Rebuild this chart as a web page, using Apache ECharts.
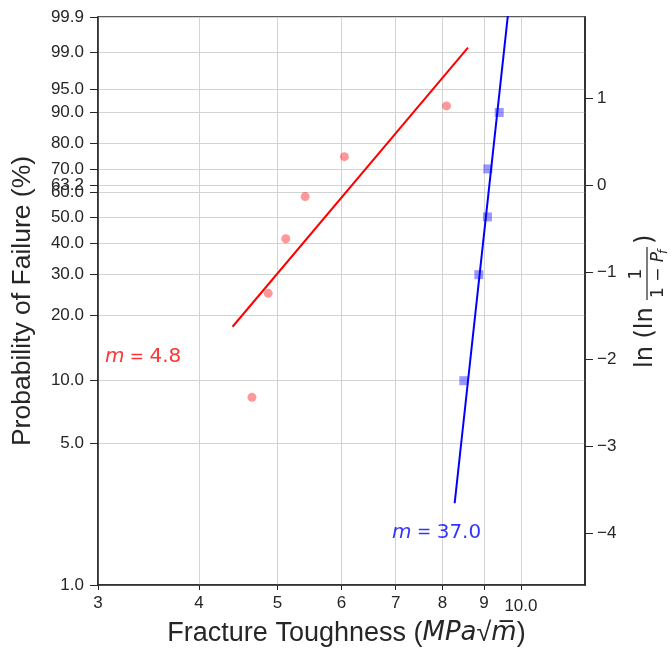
<!DOCTYPE html>
<html><head><meta charset="utf-8">
<script src="https://cdn.jsdelivr.net/npm/echarts@6/dist/echarts.min.js"></script>
<style>html,body{margin:0;padding:0;background:#fff}#c{width:671px;height:648px}</style>
</head><body><div id="c"></div>
<script>
// ---- data ----
const xTicks = [3, 4, 5, 6, 7, 8, 9, 10];
const pTicks = [1.0, 5.0, 10.0, 20.0, 30.0, 40.0, 50.0, 60.0, 63.2, 70.0, 80.0, 90.0, 95.0, 99.0, 99.9];
const rTicks = [-4, -3, -2, -1, 0, 1];
const redX = [4.65, 4.87, 5.12, 5.41, 6.05, 8.09];
const redP = [8.33, 25.0, 41.67, 58.33, 75.0, 91.67];
const blueX = [8.50, 8.87, 9.09, 9.10, 9.40];
const blueP = [10.0, 30.0, 50.0, 70.0, 90.0];
const redFitX = [4.40, 8.60];
const redFitY = [-1.63, 1.58];     // ln(ln(1/(1-Pf)))
const blueFitX = [8.28, 9.96];
const blueFitY = [-3.66, 3.18];
const redNote = {x: 3.06, y: -1.98, m: '4.8'};
const blueNote = {x: 6.93, y: -4.0, m: '37.0'};
const xMin = 3, xMax = 12, pMin = 1.0, pMax = 99.9;

// ---- transforms ----
const W = p => Math.log(-Math.log(1 - p / 100));
const L = x => Math.log(x);
const yMin = W(pMin), yMax = W(pMax);
const pVals = pTicks.map(W);

const AX = '#262626';
const TF = 'Liberation Sans';

const chart = echarts.init(document.getElementById('c'), null, {renderer: 'canvas'});
const option = {
  animation: false,
  backgroundColor: '#ffffff',
  grid: {left: 98, top: 17, right: 86, bottom: 63, outerBoundsMode: 'none', containLabel: false,
         show: true, borderColor: AX, borderWidth: 1.5, backgroundColor: 'transparent'},
  xAxis: {
    type: 'value', min: L(xMin), max: L(xMax),
    axisLine: {show: true, onZero: false, lineStyle: {color: AX, width: 1.5}},
    axisTick: {show: true, length: 5, lineStyle: {color: AX, width: 1}, customValues: xTicks.map(L)},
    axisLabel: {
      customValues: xTicks.map(L), margin: 10, color: AX, fontFamily: TF, fontSize: 17,
      formatter: v => { const n = Math.round(Math.exp(v)); return n === 10 ? '{d|10.0}' : String(n); },
      rich: {d: {fontFamily: TF, fontSize: 17, color: AX, padding: [3, 0, 0, 0]}}
    },
    splitLine: {show: true, lineStyle: {color: '#d3d3d3', width: 1}},
    name: '{t|Fracture Toughness (}{i|MPa}{t|\u221a}{i|m\u0305}{t|)}',
    nameLocation: 'middle', nameGap: 29,
    nameTextStyle: {
      padding: [0, 0, 0, 10],
      rich: {
        t: {fontFamily: TF, fontSize: 27, color: AX},
        i: {fontFamily: 'DejaVu Sans', fontStyle: 'italic', fontSize: 26, color: AX}
      }
    }
  },
  yAxis: [{
    type: 'value', min: yMin, max: yMax, position: 'left',
    axisLine: {show: true, onZero: false, lineStyle: {color: AX, width: 1.5}},
    axisTick: {show: true, length: 8, lineStyle: {color: AX, width: 1}, customValues: pVals},
    axisLabel: {
      customValues: pVals, margin: 14, color: AX, fontFamily: TF, fontSize: 17,
      formatter: v => {
        let bi = 0, bd = 1e9;
        pVals.forEach((pv, i) => { const d = Math.abs(pv - v); if (d < bd) { bd = d; bi = i; } });
        return pTicks[bi].toFixed(1);
      }
    },
    splitLine: {show: true, lineStyle: {color: '#d3d3d3', width: 1}},
    name: 'Probability of Failure (%)', nameLocation: 'middle', nameGap: 62, nameRotate: 90,
    nameTextStyle: {fontFamily: TF, fontSize: 26.5, color: AX}
  }, {
    type: 'value', min: yMin, max: yMax, position: 'right',
    axisLine: {show: true, onZero: false, lineStyle: {color: AX, width: 1.5}},
    axisTick: {show: true, length: 8, lineStyle: {color: AX, width: 1}, customValues: rTicks},
    axisLabel: {
      customValues: rTicks, margin: 12, color: AX, fontFamily: TF, fontSize: 17,
      formatter: v => { const n = Math.round(v); return n < 0 ? '\u2212' + Math.abs(n) : String(n); }
    },
    splitLine: {show: false}
  }],
  series: [
    {type: 'scatter', name: 'A', symbol: 'circle', symbolSize: 9, itemStyle: {color: 'rgba(255,0,0,0.5)'},
     data: redX.map((x, i) => [L(x), W(redP[i])]), z: 2},
    {type: 'scatter', name: 'B', symbol: 'rect', symbolSize: 9, itemStyle: {color: 'rgba(0,0,255,0.5)'},
     data: blueX.map((x, i) => [L(x), W(blueP[i])]), z: 2},
    {type: 'line', symbol: 'none', lineStyle: {color: '#ff0000', width: 2}, clip: true,
     data: redFitX.map((x, i) => [L(x), redFitY[i]]), z: 3},
    {type: 'line', symbol: 'none', lineStyle: {color: '#0000ff', width: 2}, clip: true,
     data: blueFitX.map((x, i) => [L(x), blueFitY[i]]), z: 3},
    {type: 'scatter', symbolSize: 0, silent: true, z: 4,
     data: [
       {value: [L(redNote.x), redNote.y], label: {formatter: '{i|m}{e| = }' + redNote.m, color: '#ff0000', rich: {i: {fontStyle: 'italic', fontFamily: 'DejaVu Sans', fontSize: 20, color: '#ff0000'}, e: {fontFamily: 'DejaVu Sans', fontSize: 17, color: '#ff0000'}}}},
       {value: [L(blueNote.x), blueNote.y], label: {formatter: '{i|m}{e| = }' + blueNote.m, color: '#0000ff', rich: {i: {fontStyle: 'italic', fontFamily: 'DejaVu Sans', fontSize: 20, color: '#0000ff'}, e: {fontFamily: 'DejaVu Sans', fontSize: 17, color: '#0000ff'}}}}
     ],
     label: {show: true, position: 'right', distance: 0, fontFamily: 'DejaVu Sans', fontSize: 20}
    }
  ],
  graphic: [{
    type: 'group', x: 649, y: 301, rotation: Math.PI / 2, silent: true,
    children: [
      {type: 'text', x: -67, y: -3, style: {text: 'ln (ln', font: '24px "DejaVu Sans"', fill: AX, align: 'left', verticalAlign: 'middle'}},
      {type: 'text', x: 27, y: -12, style: {text: '1', font: '17px "DejaVu Sans"', fill: AX, align: 'center', verticalAlign: 'middle'}},
      {type: 'line', shape: {x1: 1, y1: -2, x2: 54, y2: -2}, style: {stroke: AX, lineWidth: 1.2}},
      {type: 'text', x: 3, y: 10, style: {text: '1 \u2212 {i|P}', font: '17px "DejaVu Sans"', fill: AX, align: 'left', verticalAlign: 'middle',
        rich: {i: {fontStyle: 'italic', fontFamily: 'DejaVu Sans', fontSize: 17, fill: AX}}}},
      {type: 'text', x: 47, y: 15, style: {text: 'f', font: 'italic 12px "DejaVu Sans"', fill: AX, align: 'left', verticalAlign: 'middle'}},
      {type: 'text', x: 57, y: -3, style: {text: ')', font: '24px "DejaVu Sans"', fill: AX, align: 'left', verticalAlign: 'middle'}}
    ]
  }]
};
chart.setOption(option);
</script>
</body></html>
